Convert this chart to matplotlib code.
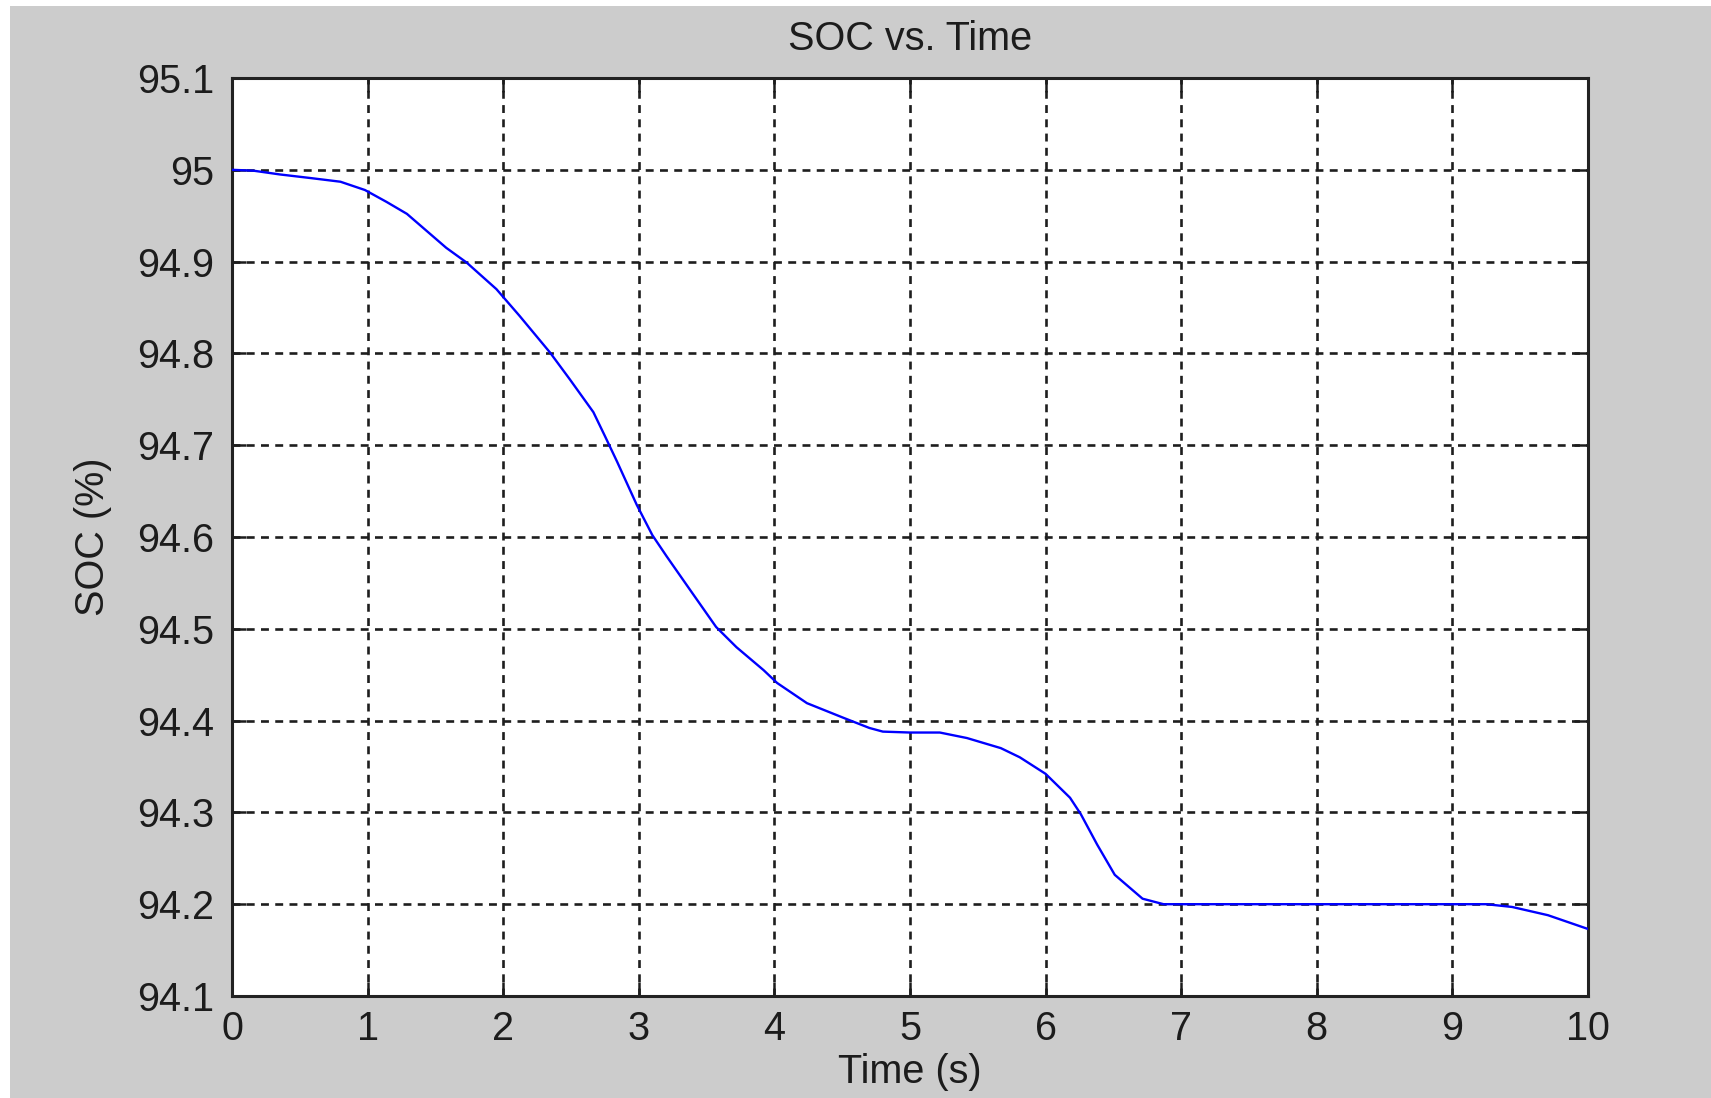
import matplotlib
matplotlib.use("Agg")
import matplotlib.pyplot as plt
from matplotlib.patches import Rectangle

plt.rcParams['font.family'] = ['Liberation Sans', 'DejaVu Sans']

# SOC curve
time_s = [0.0, 0.16, 0.35, 0.58, 0.80, 0.98, 1.14, 1.29, 1.58, 1.73, 1.95, 2.12,
          2.345, 2.49, 2.665, 2.75, 2.84, 2.985, 3.10, 3.205, 3.38, 3.57, 3.72,
          3.92, 4.02, 4.24, 4.51, 4.70, 4.80, 5.0, 5.22, 5.42, 5.67, 5.81, 6.0,
          6.18, 6.26, 6.38, 6.51, 6.715, 6.87, 9.25, 9.44, 9.705, 10.0]
soc = [95.000, 94.999, 94.995, 94.991, 94.987, 94.978, 94.965, 94.952, 94.915,
       94.899, 94.870, 94.841, 94.801, 94.772, 94.736, 94.710, 94.682, 94.635,
       94.602, 94.579, 94.542, 94.502, 94.480, 94.455, 94.441, 94.419, 94.403,
       94.392, 94.388, 94.387, 94.387, 94.381, 94.370, 94.360, 94.342, 94.316,
       94.298, 94.265, 94.232, 94.206, 94.200, 94.200, 94.197, 94.188, 94.173]

x_ticks = list(range(0, 11))
y_ticks = [94.1, 94.2, 94.3, 94.4, 94.5, 94.6, 94.7, 94.8, 94.9, 95.0, 95.1]
y_labels = ['94.1', '94.2', '94.3', '94.4', '94.5', '94.6', '94.7', '94.8', '94.9', '95', '95.1']

txt = '#1c1c1c'
fs = 28.5

fig = plt.figure(figsize=(17.11, 10.98), dpi=100)
fig.patch.set_facecolor('white')
fig.patches.append(Rectangle((10 / 1711, 0), 1, 1 - 6 / 1098, transform=fig.transFigure,
                             facecolor='#cccccc', edgecolor='none', zorder=-10))

ax = fig.add_axes([232 / 1711, 1 - 996 / 1098, (1588 - 232) / 1711, (996 - 78) / 1098])
ax.set_facecolor('white')

ax.plot(time_s, soc, color='#0000ff', lw=1.7, zorder=3)

ax.set_xlim(0, 10)
ax.set_ylim(94.1, 95.1)
ax.set_xticks(x_ticks)
ax.set_yticks(y_ticks)
ax.set_yticklabels(y_labels)

ax.grid(True, color='#1e1e1e', linestyle=(0, (3.0, 2.4)), lw=1.9)
ax.tick_params(direction='in', length=10, width=1.8, top=True, right=True,
               labelsize=fs, colors=txt)
ax.tick_params(axis='x', pad=10)
ax.tick_params(axis='y', pad=13)
for sp in ax.spines.values():
    sp.set_linewidth(2.2)
    sp.set_color('#222222')

ax.set_title('SOC vs. Time', fontsize=fs, color=txt, pad=20.5)
ax.set_xlabel('Time (s)', fontsize=fs, color=txt, labelpad=4)
ax.set_ylabel('SOC (%)', fontsize=fs, color=txt, labelpad=18)

fig.savefig('out.png', dpi=100, facecolor=fig.get_facecolor())
